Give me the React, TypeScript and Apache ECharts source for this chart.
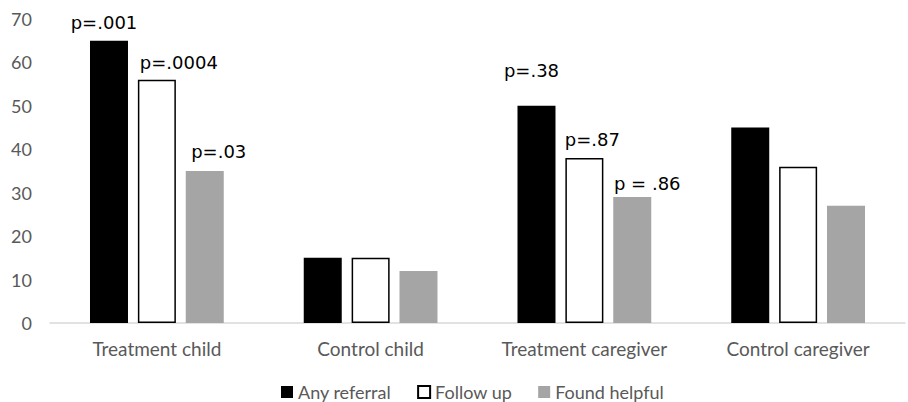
import React, { useEffect, useRef } from "react";
import * as echarts from "echarts";

const categories = ["Treatment child", "Control child", "Treatment caregiver", "Control caregiver"];
const anyReferral = [65, 15, 50, 45];
const followUp = [56, 15, 38, 36];
const foundHelpful = [35, 12, 29, 27];
const pAny = ["p=.001", "", "p=.38", ""];
const pFollow = ["p=.0004", "", "p=.87", ""];
const pHelpful = ["p=.03", "", "p = .86", ""];
const yTicks = [0, 10, 20, 30, 40, 50, 60, 70];

const pLabelOffsets: Record<string, number[]> = {
  "p=.001": [-5, -1],
  "p=.0004": [22, 0],
  "p=.03": [14, -3],
  "p=.38": [-5, -18],
  "p=.87": [8, -1],
  "p = .86": [15, 3],
};

function buildData(values: number[], labels: string[]) {
  return values.map((v, i) => ({
    value: v,
    label: labels[i]
      ? {
          show: true,
          position: "top",
          formatter: labels[i],
          offset: pLabelOffsets[labels[i]] || [0, 0],
          fontFamily: "DejaVu Sans",
          fontSize: 18,
          color: "#000",
          distance: 8,
        }
      : { show: false },
  }));
}

export default function App() {
  const ref = useRef<HTMLDivElement>(null);
  useEffect(() => {
    if (!ref.current) return;
    const chart = echarts.init(ref.current, null, { renderer: "svg" });
    chart.setOption({
      animation: false,
      backgroundColor: "#fff",
      grid: { left: 50, right: 3, top: 19, bottom: 79 },
      legend: {
        top: 383,
        left: 281,
        padding: 0,
        itemWidth: 12,
        itemHeight: 12,
        itemGap: 26,
        textStyle: { fontFamily: "Lato", fontSize: 18, color: "#595959" },
        data: [
          { name: "Any referral", icon: "rect" },
          { name: "Follow up", icon: "rect" },
          { name: "Found helpful", icon: "rect" },
        ],
      },
      xAxis: {
        type: "category",
        data: categories,
        axisLine: { lineStyle: { color: "#D9D9D9", width: 1.5 } },
        axisTick: { show: false },
        axisLabel: { fontFamily: "Lato", fontSize: 19, color: "#595959", margin: 16, interval: 0 },
      },
      yAxis: {
        type: "value",
        min: yTicks[0],
        max: yTicks[yTicks.length - 1],
        interval: 10,
        splitLine: { show: false },
        axisLine: { show: false },
        axisTick: { show: false },
        axisLabel: { fontFamily: "Lato", fontSize: 18, color: "#595959", margin: 18 },
      },
      series: [
        {
          name: "Any referral",
          type: "bar",
          data: buildData(anyReferral, pAny),
          barWidth: 38,
          barGap: "26%",
          itemStyle: { color: "#000000" },
        },
        {
          name: "Follow up",
          type: "bar",
          data: buildData(followUp, pFollow),
          barWidth: 38,
          barGap: "26%",
          itemStyle: { color: "#ffffff", borderColor: "#000000", borderWidth: 1.5 },
        },
        {
          name: "Found helpful",
          type: "bar",
          data: buildData(foundHelpful, pHelpful),
          barWidth: 38,
          barGap: "26%",
          itemStyle: { color: "#A5A5A5" },
        },
      ],
    });
    return () => chart.dispose();
  }, []);
  return <div ref={ref} style={{ width: 908, height: 402, position: "absolute", left: 0, top: 0 }} />;
}
